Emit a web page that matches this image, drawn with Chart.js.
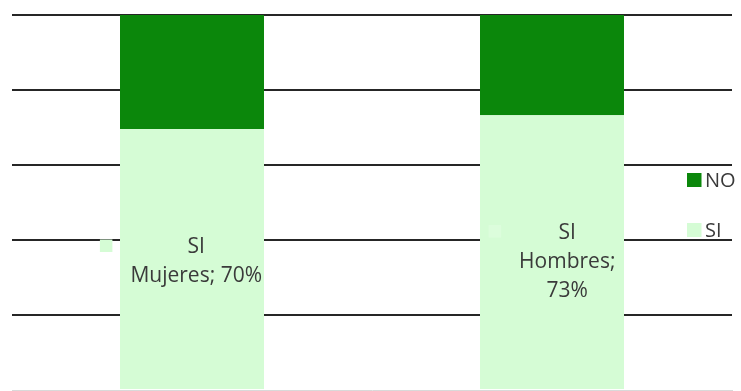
<!DOCTYPE html>
<html>
<head>
<meta charset="utf-8">
<script src="https://cdn.jsdelivr.net/npm/chart.js@4.4.0/dist/chart.umd.min.js"></script>
<style>
html,body{margin:0;padding:0;background:#fff;}
#wrap{width:741px;height:391px;position:relative;}
</style>
</head>
<body>
<div id="wrap"><canvas id="c" width="741" height="391"></canvas></div>
<script>
const categories = ['Mujeres', 'Hombres'];
const siValues = [69.6, 73.3];
const noValues = [30.4, 26.7];
const seriesNames = ['SI', 'NO'];
const yTicks = [0, 20, 40, 60, 80, 100];

const SI_COLOR = '#d5fcd5';
const NO_COLOR = '#0b870b';
const TEXT_COLOR = '#3a3a3a';
const FONT = '"Open Sans", "Noto Sans", sans-serif';

const labelPlugin = {
  id: 'siLabels',
  afterDatasetsDraw(chart) {
    const ctx = chart.ctx;
    const meta = chart.getDatasetMeta(0);
    const ds = chart.data.datasets[0];
    ctx.save();
    ctx.font = '21px ' + FONT;
    ctx.fillStyle = TEXT_COLOR;
    ctx.textAlign = 'center';
    ctx.textBaseline = 'middle';
    const lineH = 29;
    const keySize = 12.5, keyGap = 18;
    meta.data.forEach((el, i) => {
      const txt = categories[i] + '; ' + Math.round(ds.data[i]) + '%';
      const maxW = el.width - 8;
      let lines = [ds.label];
      if (ctx.measureText(txt).width > maxW) {
        const words = txt.split(' ');
        let cur = '';
        words.forEach(w => {
          const t = cur ? cur + ' ' + w : w;
          if (cur && ctx.measureText(t).width > maxW) { lines.push(cur); cur = w; }
          else cur = t;
        });
        if (cur) lines.push(cur);
      } else lines.push(txt);
      let maxLine = 0;
      lines.forEach(l => { maxLine = Math.max(maxLine, ctx.measureText(l).width); });
      const boxW = keySize + keyGap + maxLine;
      let boxRight = el.x + boxW / 2;
      const limit = el.x + el.width / 2 - 2;
      if (boxRight > limit) boxRight = limit;
      const textCx = boxRight - maxLine / 2;
      const cy = (el.y + el.base) / 2 + (lines.length > 2 ? 10 : 3);
      const top = cy - (lines.length - 1) * lineH / 2;
      lines.forEach((l, k) => ctx.fillText(l, textCx, top + k * lineH));
      const keyLeft = boxRight - boxW;
      ctx.fillStyle = i === 0 ? SI_COLOR : '#dcfddc';
      ctx.fillRect(keyLeft, top - 8, keySize, keySize);
      ctx.fillStyle = TEXT_COLOR;
    });
    ctx.restore();
  },
  afterDraw(chart) {
    const ctx = chart.ctx;
    ctx.save();
    ctx.font = '20px ' + FONT;
    ctx.textBaseline = 'middle';
    ctx.textAlign = 'left';
    const order = [1, 0];
    const x = 687;
    order.forEach((di, k) => {
      const ds = chart.data.datasets[di];
      const cy = 180 + k * 50;
      ctx.fillStyle = ds.backgroundColor;
      ctx.fillRect(x, cy - 7, 14.5, 14);
      ctx.fillStyle = TEXT_COLOR;
      ctx.fillText(ds.label, x + 18, cy + 1);
    });
    ctx.restore();
  }
};

new Chart(document.getElementById('c'), {
  type: 'bar',
  data: {
    labels: categories,
    datasets: [
      { label: seriesNames[0], data: siValues, backgroundColor: SI_COLOR, borderWidth: 0 },
      { label: seriesNames[1], data: noValues, backgroundColor: NO_COLOR, borderWidth: 0 }
    ]
  },
  options: {
    responsive: false,
    animation: false,
    events: [],
    layout: { padding: { left: 12, right: 9, top: 15, bottom: 1 } },
    datasets: { bar: { barPercentage: 1, categoryPercentage: 0.4 } },
    plugins: { legend: { display: false }, tooltip: { enabled: false } },
    scales: {
      x: {
        stacked: true,
        ticks: { display: false },
        grid: { display: false, drawTicks: false },
        border: { display: true, color: '#d9d9d9', width: 1 },
        afterFit(s) { s.height = 0; }
      },
      y: {
        stacked: true,
        min: yTicks[0], max: yTicks[yTicks.length - 1],
        afterBuildTicks(s) { s.ticks = yTicks.map(v => ({ value: v })); },
        ticks: { display: false },
        grid: {
          drawTicks: false,
          color: c => c.tick && c.tick.value === 0 ? 'rgba(0,0,0,0)' : '#262626',
          lineWidth: 2
        },
        border: { display: false },
        afterFit(s) { s.width = 0; }
      }
    }
  },
  plugins: [labelPlugin]
});
</script>
</body>
</html>
